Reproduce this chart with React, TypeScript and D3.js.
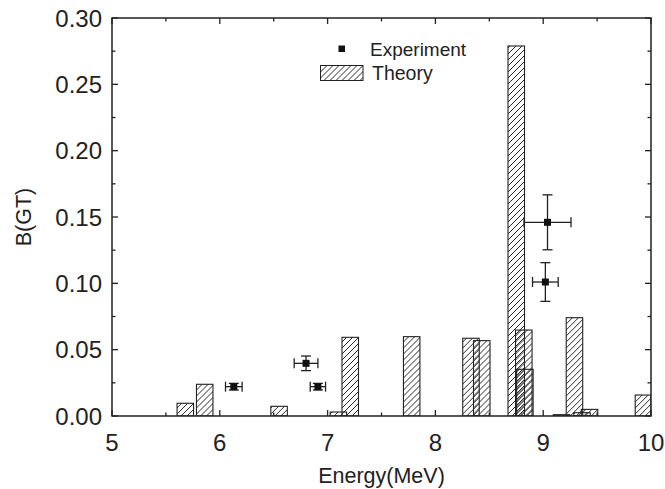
import React from "react";
import * as d3 from "d3";

const theoryEnergy = [5.68, 5.86, 6.55, 7.10, 7.21, 7.78, 8.33, 8.43, 8.75, 8.82, 8.83, 9.17, 9.29, 9.36, 9.43, 9.93];
const theoryBGT = [0.0096, 0.0239, 0.0073, 0.003, 0.0593, 0.0598, 0.0586, 0.0568, 0.2789, 0.0648, 0.0352, 0.001, 0.0741, 0.0025, 0.005, 0.0158];

const expEnergy = [6.13, 6.80, 6.91, 9.02, 9.04];
const expBGT = [0.0221, 0.0397, 0.0221, 0.101, 0.146];
const expEnergyErr = [0.077, 0.11, 0.071, 0.119, 0.218];
const expBGTErr = [0.0025, 0.0055, 0.0025, 0.0146, 0.0207];

const xTicks = [5, 6, 7, 8, 9, 10];
const yTicks = [0.0, 0.05, 0.1, 0.15, 0.2, 0.25, 0.3];

const W = 665;
const H = 489;
const L = 112, R = 651, T = 18, B = 416;
const BAR_W = 0.153;
const FONT = "'Liberation Sans', Arial, sans-serif";
const INK = "#222";

export default function App() {
  const x = d3.scaleLinear().domain([5, 10]).range([L, R]);
  const y = d3.scaleLinear().domain([0, 0.3]).range([B, T]);
  const xMinor = d3.range(5, 10.01, 0.5);
  const yMinor = d3.range(0, 0.3001, 0.025);
  const isMajorX = (v: number) => Math.abs(v - Math.round(v)) < 1e-6;
  const isMajorY = (v: number) => Math.abs(v / 0.05 - Math.round(v / 0.05)) < 1e-6;

  const bars = theoryEnergy.map((e, i) => {
    const x0 = x(e - BAR_W / 2);
    const x1 = Math.min(x(e + BAR_W / 2), R);
    return { x0, x1, yTop: y(theoryBGT[i]), i };
  });

  const hatch = (id: string, ox: number) => (
    <pattern key={id} id={id} patternUnits="userSpaceOnUse" width={6} height={6} x={ox} y={0}>
      <path d="M0,6 L6,0 M-1,1 L1,-1 M5,7 L7,5" stroke="#2a2a2a" strokeWidth={1} />
    </pattern>
  );

  return (
    <div style={{ position: "fixed", left: 0, top: 0 }}>
      <svg width={W} height={H} style={{ display: "block", background: "#fff" }}>
        <defs>
          {bars.map((b) => hatch(`h${b.i}`, b.x0))}
          {hatch("hleg", 320.5)}
          <clipPath id="plotclip">
            <rect x={L} y={T} width={R - L} height={B - T} />
          </clipPath>
        </defs>

        <g clipPath="url(#plotclip)">
          {bars.map((b) => (
            <rect
              key={b.i}
              x={b.x0}
              y={b.yTop}
              width={b.x1 - b.x0}
              height={B - b.yTop}
              fill={`url(#h${b.i})`}
              stroke={INK}
              strokeWidth={1.1}
            />
          ))}
        </g>

        {expEnergy.map((e, i) => {
          const cx = x(e);
          const cy = y(expBGT[i]);
          const xl = x(e - expEnergyErr[i]);
          const xr = x(e + expEnergyErr[i]);
          const yt = y(expBGT[i] + expBGTErr[i]);
          const yb = y(expBGT[i] - expBGTErr[i]);
          return (
            <g key={i} stroke={INK} strokeWidth={1.3}>
              <line x1={xl} x2={xr} y1={cy} y2={cy} />
              <line x1={cx} x2={cx} y1={yt} y2={yb} />
              <line x1={xl} x2={xl} y1={cy - 5} y2={cy + 5} />
              <line x1={xr} x2={xr} y1={cy - 5} y2={cy + 5} />
              <line x1={cx - 5} x2={cx + 5} y1={yt} y2={yt} />
              <line x1={cx - 5} x2={cx + 5} y1={yb} y2={yb} />
              <rect x={cx - 3.5} y={cy - 3.5} width={7} height={7} fill="#111" stroke="none" />
            </g>
          );
        })}

        {/* frame */}
        <rect x={L} y={T} width={R - L} height={B - T} fill="none" stroke={INK} strokeWidth={1.5} />

        {/* ticks */}
        {xMinor.map((v, i) => {
          const len = isMajorX(v) ? 6 : 3.5;
          const px = x(v);
          return (
            <g key={`xt${i}`} stroke={INK} strokeWidth={1.3}>
              <line x1={px} x2={px} y1={B} y2={B - len} />
              <line x1={px} x2={px} y1={T} y2={T + len} />
            </g>
          );
        })}
        {yMinor.map((v, i) => {
          const len = isMajorY(v) ? 6 : 3.5;
          const py = y(v);
          return (
            <g key={`yt${i}`} stroke={INK} strokeWidth={1.3}>
              <line x1={L} x2={L + len} y1={py} y2={py} />
              <line x1={R} x2={R - len} y1={py} y2={py} />
            </g>
          );
        })}

        {xTicks.map((v) => (
          <text key={`xl${v}`} x={x(v)} y={451} textAnchor="middle" fontFamily={FONT} fontSize={24} fill={INK}>
            {d3.format("d")(v)}
          </text>
        ))}
        {yTicks.map((v) => (
          <text key={`yl${v}`} x={102} y={y(v)} dy="0.36em" textAnchor="end" fontFamily={FONT} fontSize={24} fill={INK}>
            {d3.format(".2f")(v)}
          </text>
        ))}

        <text x={(L + R) / 2} y={483} textAnchor="middle" fontFamily={FONT} fontSize={21.5} fill={INK}>
          Energy(MeV)
        </text>
        <text
          transform={`translate(31,${(T + B) / 2}) rotate(-90)`}
          textAnchor="middle"
          fontFamily={FONT}
          fontSize={21.5}
          fill={INK}
        >
          B(GT)
        </text>

        {/* legend */}
        <rect x={338.5} y={45.5} width={6.5} height={6.5} fill="#111" />
        <text x={370} y={56} fontFamily={FONT} fontSize={19} fill={INK}>Experiment</text>
        <rect x={320.5} y={65.5} width={42.5} height={15} fill="url(#hleg)" stroke={INK} strokeWidth={1} />
        <text x={372} y={80} fontFamily={FONT} fontSize={19.5} fill={INK}>Theory</text>
      </svg>
    </div>
  );
}
